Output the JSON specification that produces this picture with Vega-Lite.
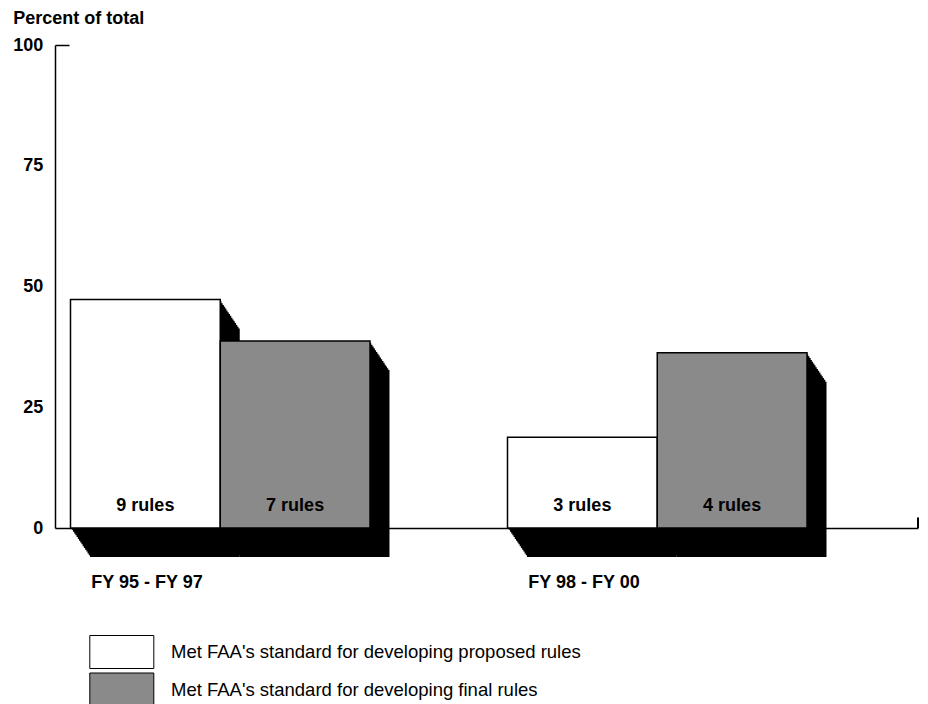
{
  "$schema": "https://vega.github.io/schema/vega-lite/v6.json",
  "width": 863,
  "height": 483,
  "autosize": {"type": "none"},
  "padding": {"left": 55, "top": 45, "right": 10, "bottom": 176},
  "background": "white",
  "config": {"view": {"stroke": null}, "font": "Liberation Sans"},
  "data": {
    "values": [
      {"period": "FY 95 - FY 97", "standard": "Met FAA's standard for developing proposed rules", "percent": 47.3, "label": "9 rules"},
      {"period": "FY 95 - FY 97", "standard": "Met FAA's standard for developing final rules", "percent": 38.7, "label": "7 rules"},
      {"period": "FY 98 - FY 00", "standard": "Met FAA's standard for developing proposed rules", "percent": 18.8, "label": "3 rules"},
      {"period": "FY 98 - FY 00", "standard": "Met FAA's standard for developing final rules", "percent": 36.3, "label": "4 rules"}
    ]
  },
  "encoding": {
    "y": {
      "field": "percent",
      "type": "quantitative",
      "scale": {"domain": [0, 100]},
      "axis": {
        "title": "Percent of total",
        "titleAngle": 0,
        "titleAlign": "left",
        "titleBaseline": "alphabetic",
        "titleX": -42.3,
        "titleY": -21.5,
        "titleFontSize": 18,
        "titleFontWeight": "bold",
        "titleColor": "black",
        "values": [0, 25, 50, 75, 100],
        "grid": false,
        "domainColor": "black",
        "domainWidth": 1.5,
        "labelFontSize": 18,
        "labelFontWeight": "bold",
        "labelColor": "black",
        "labelPadding": 26.3,
        "tickSize": -14,
        "tickWidth": 1.5,
        "tickColor": {"condition": {"test": "datum.value === 100", "value": "black"}, "value": "transparent"}
      }
    }
  },
  "layer": [
    {
      "encoding": {
        "x": {
          "field": "period",
          "type": "nominal",
          "sort": null,
          "scale": {"paddingInner": 0.3146, "paddingOuter": 0.1447, "align": 0.1225},
          "axis": {
            "title": null,
            "ticks": false,
            "domainColor": "black",
            "domainWidth": 1.5,
            "labelAngle": 0,
            "labelFontWeight": "bold",
            "labelFontSize": 18,
            "labelColor": "black",
            "labelAlign": "left",
            "labelOffset": -129,
            "labelBaseline": "alphabetic",
            "labelPadding": 59.5
          }
        },
        "xOffset": {"field": "standard", "type": "nominal", "sort": null, "scale": {"paddingInner": 0, "paddingOuter": 0}}
      },
      "resolve": {"scale": {"xOffset": "independent"}},
      "layer": [
        {"mark": {"type": "bar", "fill": "black", "stroke": null, "yOffset": 1.81, "y2Offset": 1.81}, "encoding": {"xOffset": {"field": "standard", "type": "nominal", "sort": null, "scale": {"range": [1.22, 300.72], "paddingInner": 0, "paddingOuter": 0}}}},
        {"mark": {"type": "bar", "fill": "black", "stroke": null, "yOffset": 3.63, "y2Offset": 3.63}, "encoding": {"xOffset": {"field": "standard", "type": "nominal", "sort": null, "scale": {"range": [2.44, 301.94], "paddingInner": 0, "paddingOuter": 0}}}},
        {"mark": {"type": "bar", "fill": "black", "stroke": null, "yOffset": 5.44, "y2Offset": 5.44}, "encoding": {"xOffset": {"field": "standard", "type": "nominal", "sort": null, "scale": {"range": [3.66, 303.16], "paddingInner": 0, "paddingOuter": 0}}}},
        {"mark": {"type": "bar", "fill": "black", "stroke": null, "yOffset": 7.25, "y2Offset": 7.25}, "encoding": {"xOffset": {"field": "standard", "type": "nominal", "sort": null, "scale": {"range": [4.88, 304.38], "paddingInner": 0, "paddingOuter": 0}}}},
        {"mark": {"type": "bar", "fill": "black", "stroke": null, "yOffset": 9.06, "y2Offset": 9.06}, "encoding": {"xOffset": {"field": "standard", "type": "nominal", "sort": null, "scale": {"range": [6.09, 305.59], "paddingInner": 0, "paddingOuter": 0}}}},
        {"mark": {"type": "bar", "fill": "black", "stroke": null, "yOffset": 10.88, "y2Offset": 10.88}, "encoding": {"xOffset": {"field": "standard", "type": "nominal", "sort": null, "scale": {"range": [7.31, 306.81], "paddingInner": 0, "paddingOuter": 0}}}},
        {"mark": {"type": "bar", "fill": "black", "stroke": null, "yOffset": 12.69, "y2Offset": 12.69}, "encoding": {"xOffset": {"field": "standard", "type": "nominal", "sort": null, "scale": {"range": [8.53, 308.03], "paddingInner": 0, "paddingOuter": 0}}}},
        {"mark": {"type": "bar", "fill": "black", "stroke": null, "yOffset": 14.5, "y2Offset": 14.5}, "encoding": {"xOffset": {"field": "standard", "type": "nominal", "sort": null, "scale": {"range": [9.75, 309.25], "paddingInner": 0, "paddingOuter": 0}}}},
        {"mark": {"type": "bar", "fill": "black", "stroke": null, "yOffset": 16.31, "y2Offset": 16.31}, "encoding": {"xOffset": {"field": "standard", "type": "nominal", "sort": null, "scale": {"range": [10.97, 310.47], "paddingInner": 0, "paddingOuter": 0}}}},
        {"mark": {"type": "bar", "fill": "black", "stroke": null, "yOffset": 18.13, "y2Offset": 18.13}, "encoding": {"xOffset": {"field": "standard", "type": "nominal", "sort": null, "scale": {"range": [12.19, 311.69], "paddingInner": 0, "paddingOuter": 0}}}},
        {"mark": {"type": "bar", "fill": "black", "stroke": null, "yOffset": 19.94, "y2Offset": 19.94}, "encoding": {"xOffset": {"field": "standard", "type": "nominal", "sort": null, "scale": {"range": [13.41, 312.91], "paddingInner": 0, "paddingOuter": 0}}}},
        {"mark": {"type": "bar", "fill": "black", "stroke": null, "yOffset": 21.75, "y2Offset": 21.75}, "encoding": {"xOffset": {"field": "standard", "type": "nominal", "sort": null, "scale": {"range": [14.63, 314.13], "paddingInner": 0, "paddingOuter": 0}}}},
        {"mark": {"type": "bar", "fill": "black", "stroke": null, "yOffset": 23.56, "y2Offset": 23.56}, "encoding": {"xOffset": {"field": "standard", "type": "nominal", "sort": null, "scale": {"range": [15.84, 315.34], "paddingInner": 0, "paddingOuter": 0}}}},
        {"mark": {"type": "bar", "fill": "black", "stroke": null, "yOffset": 25.38, "y2Offset": 25.38}, "encoding": {"xOffset": {"field": "standard", "type": "nominal", "sort": null, "scale": {"range": [17.06, 316.56], "paddingInner": 0, "paddingOuter": 0}}}},
        {"mark": {"type": "bar", "fill": "black", "stroke": null, "yOffset": 27.19, "y2Offset": 27.19}, "encoding": {"xOffset": {"field": "standard", "type": "nominal", "sort": null, "scale": {"range": [18.28, 317.78], "paddingInner": 0, "paddingOuter": 0}}}},
        {"mark": {"type": "bar", "fill": "black", "stroke": null, "yOffset": 29, "y2Offset": 29}, "encoding": {"xOffset": {"field": "standard", "type": "nominal", "sort": null, "scale": {"range": [19.5, 319], "paddingInner": 0, "paddingOuter": 0}}}},
        {
          "mark": {"type": "bar", "stroke": "black", "strokeWidth": 1.5},
          "encoding": {
            "fill": {
              "field": "standard",
              "type": "nominal",
              "sort": null,
              "scale": {"range": ["white", "#8a8a8a"]},
              "legend": {
                "title": null,
                "orient": "none",
                "legendX": 50.3,
                "legendY": 590.5,
                "padding": 0,
                "direction": "vertical",
                "symbolType": "M-2,-1.031H2V1.031H-2Z",
                "symbolSize": 1024,
                "symbolStrokeColor": "black",
                "symbolStrokeWidth": 1,
                "symbolOpacity": 1,
                "labelFontSize": 18.5,
                "labelColor": "black",
                "labelOffset": 32.7,
                "labelLimit": 0,
                "rowPadding": 0.5
              }
            }
          }
        },
        {
          "mark": {"type": "text", "fontSize": 18, "fontWeight": "bold", "fill": "black", "baseline": "alphabetic", "dy": -17},
          "encoding": {
            "text": {"field": "label"},
            "y": {"datum": 0},
            "xOffset": {"field": "standard", "type": "nominal", "sort": null, "scale": {"type": "point", "range": [74.875, 224.625], "padding": 0}}
          }
        }
      ]
    },
    {
      "mark": {"type": "rule", "color": "black", "strokeWidth": 1.5},
      "encoding": {"x": {"value": "width"}, "y": {"datum": 0}, "y2": {"datum": 2.1}}
    }
  ]
}
